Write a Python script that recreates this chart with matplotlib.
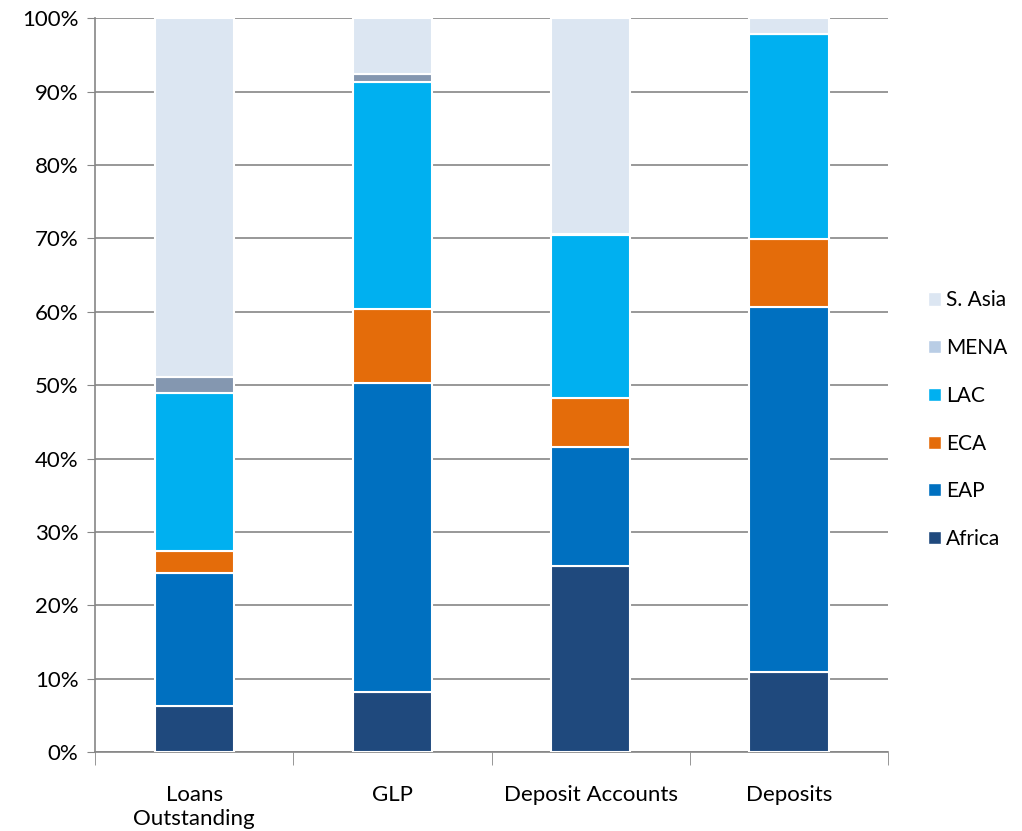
import numpy as np
import matplotlib.pyplot as plt
from matplotlib.patches import Patch

categories = ["Loans\nOutstanding", "GLP", "Deposit Accounts", "Deposits"]
regions = ["Africa", "EAP", "ECA", "LAC", "MENA", "S. Asia"]

# shares in percent, per category
africa = [6.3, 8.2, 25.3, 10.9]
eap = [18.1, 42.1, 16.3, 49.7]
eca = [3.0, 10.1, 6.6, 9.3]
lac = [21.5, 30.9, 22.2, 27.9]
mena = [2.2, 1.1, 0.2, 0.0]
s_asia = [48.9, 7.6, 29.4, 2.2]

series = [africa, eap, eca, lac, mena, s_asia]
bar_colors = ["#1F497D", "#0070C0", "#E46C0A", "#00B0F0", "#8497B0", "#DCE6F2"]
legend_colors = ["#1F497D", "#0070C0", "#E46C0A", "#00B0F0", "#B9CDE5", "#DCE6F2"]

plt.rcParams["font.family"] = ["Lato", "DejaVu Sans"]

fig = plt.figure(figsize=(10.22, 8.31), dpi=100)
ax = fig.add_axes([0.093, 0.095, 0.776, 0.883])

x = np.arange(len(categories))
bottom = np.zeros(len(categories))
for vals, col in zip(series, bar_colors):
    ax.bar(x, vals, width=0.4, bottom=bottom, color=col,
           edgecolor="white", linewidth=1.5, zorder=3)
    bottom += np.array(vals)

ax.set_xlim(-0.5, len(categories) - 0.5)
ax.set_ylim(0, 100)
ax.set_yticks(np.arange(0, 101, 10))
ax.set_yticklabels([f"{v}%" for v in range(0, 101, 10)], fontsize=16)
ax.yaxis.grid(True, color="#868686", linewidth=1.2, zorder=0)
ax.tick_params(axis="y", direction="out", length=6, color="#868686", pad=6)

ax.set_xticks(x)
ax.set_xticklabels(categories, fontsize=16, linespacing=1.25)
ax.tick_params(axis="x", length=0, pad=24)
ax.set_xticks(np.arange(-0.5, len(categories), 1), minor=True)
ax.tick_params(axis="x", which="minor", direction="out", length=9, color="#868686")

for s in ["top", "right"]:
    ax.spines[s].set_visible(False)
for s in ["left", "bottom"]:
    ax.spines[s].set_color("#868686")
    ax.spines[s].set_linewidth(1.2)

handles = [Patch(facecolor=c, edgecolor="white", label=r)
           for r, c in zip(regions, legend_colors)][::-1]
fig.legend(handles=handles, loc="center left", bbox_to_anchor=(0.9, 0.495),
           frameon=False, fontsize=15, labelspacing=1.33, borderaxespad=0,
           handlelength=0.6, handleheight=0.6, handletextpad=0.25)

fig.savefig("out.png", dpi=100)
